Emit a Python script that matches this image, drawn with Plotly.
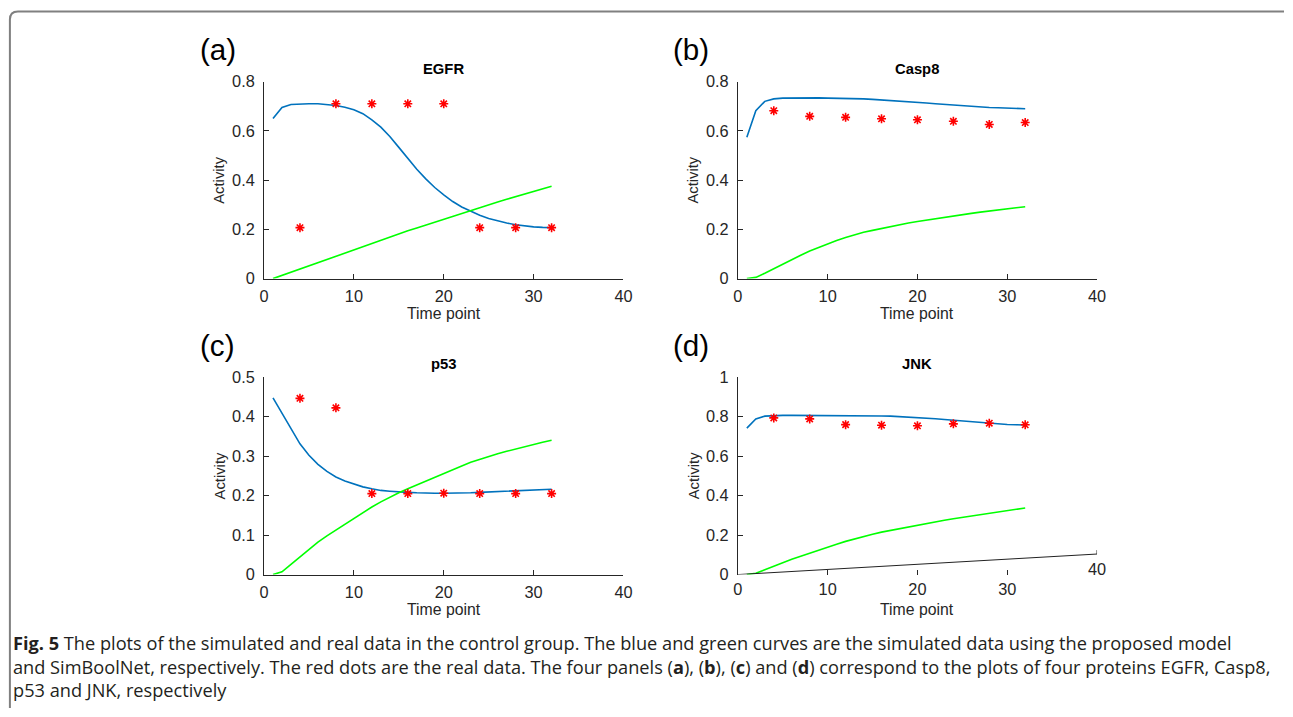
import plotly.graph_objects as go

# ---------------- data ----------------
time_points = list(range(1, 33))
real_times = [4, 8, 12, 16, 20, 24, 28, 32]

egfr_model = [0.650, 0.695, 0.707, 0.710, 0.710, 0.710, 0.707, 0.703, 0.696, 0.686,
              0.670, 0.645, 0.615, 0.577, 0.533, 0.487, 0.444, 0.405, 0.370, 0.340,
              0.313, 0.291, 0.273, 0.257, 0.244, 0.234, 0.226, 0.219, 0.214, 0.210,
              0.208, 0.207]
egfr_simbool = [0.000, 0.013, 0.027, 0.040, 0.054, 0.067, 0.080, 0.093, 0.106, 0.119,
                0.132, 0.145, 0.157, 0.169, 0.182, 0.194, 0.206, 0.218, 0.230, 0.242,
                0.254, 0.266, 0.277, 0.288, 0.300, 0.311, 0.322, 0.333, 0.344, 0.355,
                0.365, 0.375]
egfr_real = [0.207, 0.710, 0.710, 0.710, 0.710, 0.207, 0.207, 0.207]

casp8_model = [0.574, 0.682, 0.720, 0.730, 0.733, 0.734, 0.734, 0.734, 0.734, 0.733,
               0.733, 0.732, 0.731, 0.730, 0.728, 0.726, 0.724, 0.721, 0.719, 0.716,
               0.713, 0.710, 0.707, 0.704, 0.701, 0.699, 0.697, 0.695, 0.694, 0.692,
               0.691, 0.690]
casp8_simbool = [0.000, 0.005, 0.022, 0.041, 0.060, 0.078, 0.095, 0.112, 0.127, 0.142,
                 0.155, 0.167, 0.178, 0.188, 0.196, 0.204, 0.212, 0.219, 0.226, 0.232,
                 0.238, 0.244, 0.250, 0.255, 0.260, 0.265, 0.270, 0.275, 0.279, 0.284,
                 0.288, 0.292]
casp8_real = [0.682, 0.659, 0.655, 0.649, 0.645, 0.639, 0.626, 0.634]

p53_model = [0.447, 0.408, 0.367, 0.331, 0.302, 0.279, 0.261, 0.247, 0.237, 0.229,
             0.222, 0.217, 0.213, 0.211, 0.209, 0.208, 0.207, 0.206, 0.206, 0.206,
             0.206, 0.207, 0.207, 0.208, 0.209, 0.210, 0.211, 0.212, 0.213, 0.214,
             0.215, 0.216]
p53_simbool = [0.000, 0.007, 0.026, 0.045, 0.064, 0.082, 0.098, 0.113, 0.127, 0.141,
               0.156, 0.171, 0.184, 0.196, 0.207, 0.217, 0.227, 0.237, 0.247, 0.257,
               0.266, 0.275, 0.284, 0.292, 0.299, 0.306, 0.312, 0.318, 0.324, 0.329,
               0.335, 0.340]
p53_real = [0.446, 0.422, 0.205, 0.205, 0.206, 0.205, 0.205, 0.205]

jnk_model = [0.741, 0.788, 0.802, 0.805, 0.806, 0.806, 0.806, 0.806, 0.806, 0.806,
             0.806, 0.806, 0.805, 0.805, 0.804, 0.803, 0.802, 0.800, 0.798, 0.796,
             0.793, 0.789, 0.785, 0.781, 0.777, 0.773, 0.769, 0.766, 0.763, 0.760,
             0.758, 0.757]
jnk_simbool = [0.000, 0.007, 0.024, 0.043, 0.060, 0.077, 0.093, 0.109, 0.124, 0.139,
               0.154, 0.168, 0.181, 0.193, 0.204, 0.215, 0.224, 0.233, 0.241, 0.249,
               0.258, 0.267, 0.275, 0.283, 0.290, 0.297, 0.304, 0.311, 0.318, 0.324,
               0.331, 0.337]
jnk_real = [0.793, 0.788, 0.759, 0.756, 0.753, 0.763, 0.766, 0.758]

# stray (slanted) x-axis line seen in panel (d)
jnk_axis_x = [0, 40]
jnk_axis_y = [0, 0.104]

panel_names = ["EGFR", "Casp8", "p53", "JNK"]
panel_letters = ["(a)", "(b)", "(c)", "(d)"]
y_max = [0.8, 0.8, 0.5, 1.0]
y_ticks = [[0, 0.2, 0.4, 0.6, 0.8], [0, 0.2, 0.4, 0.6, 0.8],
           [0, 0.1, 0.2, 0.3, 0.4, 0.5], [0, 0.2, 0.4, 0.6, 0.8, 1]]
x_ticks = [0, 10, 20, 30, 40]

models = [egfr_model, casp8_model, p53_model, jnk_model]
simbools = [egfr_simbool, casp8_simbool, p53_simbool, jnk_simbool]
reals = [egfr_real, casp8_real, p53_real, jnk_real]

caption_lines = [
    "<b>Fig. 5</b> The plots of the simulated and real data in the control group. The blue and green curves are the simulated data using the proposed model",
    "and SimBoolNet, respectively. The red dots are the real data. The four panels (<b>a</b>), (<b>b</b>), (<b>c</b>) and (<b>d</b>) correspond to the plots of four proteins EGFR, Casp8,",
    "p53 and JNK, respectively",
]

# ---------------- layout helpers ----------------
W, H = 1293, 717
# the captured picture maps the page slightly inward; these undo that mapping
SX, OX = 0.9895, 3.6
SY, OY = 0.977, 7.5
FS = 1.02  # font compensation

def px(x):
    return ((x - OX) / SX) / W
def py(y):
    return 1 - ((y - OY) / SY) / H

# axes boxes in target pixels: (left, right, top, bottom)
boxes = [(262.7, 622.3, 80.3, 277.7), (736.7, 1096.0, 80.3, 277.7),
         (262.7, 622.3, 376.3, 574.3), (736.7, 1096.0, 376.3, 574.3)]

BLUE = "#0072BD"
GREEN = "#00FF00"
RED = "#FF0000"
AX = "#262626"
FAM = "Liberation Sans, Arial, sans-serif"
TICKFONT = dict(family=FAM, size=16 * FS, color=AX)

fig = go.Figure()
annotations = []
for i in range(4):
    xa = "x" if i == 0 else f"x{i+1}"
    ya = "y" if i == 0 else f"y{i+1}"
    fig.add_trace(go.Scatter(x=time_points, y=models[i], mode="lines",
                             line=dict(color=BLUE, width=1.6), xaxis=xa, yaxis=ya,
                             cliponaxis=False, showlegend=False))
    fig.add_trace(go.Scatter(x=time_points, y=simbools[i], mode="lines",
                             line=dict(color=GREEN, width=1.6), xaxis=xa, yaxis=ya,
                             cliponaxis=False, showlegend=False))
    fig.add_trace(go.Scatter(x=real_times, y=reals[i], mode="markers",
                             marker=dict(symbol="asterisk-open", size=7.5, color=RED,
                                         line=dict(color=RED, width=1.6)),
                             xaxis=xa, yaxis=ya, cliponaxis=False, showlegend=False))
    l, r, t, b = boxes[i]
    is_d = (i == 3)
    xkey = "xaxis" if i == 0 else f"xaxis{i+1}"
    ykey = "yaxis" if i == 0 else f"yaxis{i+1}"
    fig.update_layout(**{
        xkey: dict(domain=[px(l), px(r)], anchor=ya, range=[0, 40],
                   tickvals=x_ticks[:-1] if is_d else x_ticks,
                   ticks="inside", ticklen=5, tickcolor=AX, tickwidth=1,
                   showline=not is_d, linecolor=AX, linewidth=1,
                   showgrid=False, zeroline=False, tickfont=TICKFONT,
                   ticklabelstandoff=3, fixedrange=True),
        ykey: dict(domain=[py(b), py(t)], anchor=xa, range=[0, y_max[i]],
                   tickvals=y_ticks[i],
                   ticktext=[("%g" % v) for v in y_ticks[i]],
                   ticks="inside", ticklen=5, tickcolor=AX, tickwidth=1,
                   showline=True, linecolor=AX, linewidth=1,
                   showgrid=False, zeroline=False, tickfont=TICKFONT,
                   ticklabelstandoff=5, fixedrange=True),
    })
    cx = (l + r) / 2
    annotations.append(dict(text="<b>%s</b>" % panel_names[i], x=px(cx), y=py(t - 12.6),
                            xref="paper", yref="paper", showarrow=False,
                            xanchor="center", yanchor="middle",
                            font=dict(family=FAM, size=14.5 * FS, color="#000000")))
    annotations.append(dict(text="Time point", x=px(cx), y=py(b + 35),
                            xref="paper", yref="paper", showarrow=False,
                            xanchor="center", yanchor="middle",
                            font=dict(family=FAM, size=15.5 * FS, color=AX)))
    annotations.append(dict(text="Activity", x=px(l - 44.4), y=py((t + b) / 2),
                            xref="paper", yref="paper", showarrow=False, textangle=-90,
                            xanchor="center", yanchor="middle",
                            font=dict(family=FAM, size=14.5 * FS, color=AX)))
    annotations.append(dict(text=panel_letters[i], x=px(l - 46.5), y=py(t - 32),
                            xref="paper", yref="paper", showarrow=False,
                            xanchor="center", yanchor="middle",
                            font=dict(family=FAM, size=29 * FS, color="#000000")))

# stray axis in panel (d)
fig.add_trace(go.Scatter(x=jnk_axis_x, y=jnk_axis_y, mode="lines",
                         line=dict(color="#222222", width=1), xaxis="x4", yaxis="y4",
                         cliponaxis=False, showlegend=False))
fig.add_trace(go.Scatter(x=[jnk_axis_x[1], jnk_axis_x[1]],
                         y=[jnk_axis_y[1], jnk_axis_y[1] + 0.02], mode="lines",
                         line=dict(color="#222222", width=1), xaxis="x4", yaxis="y4",
                         cliponaxis=False, showlegend=False))
annotations.append(dict(text="40", x=40, y=0.027, xref="x4", yref="y4", showarrow=False,
                        xanchor="center", yanchor="middle", font=TICKFONT))

# caption (one text block)
annotations.append(dict(text="<br>".join(caption_lines), x=px(9.5), y=py(666),
                        xref="paper", yref="paper", showarrow=False, xanchor="left",
                        yanchor="middle", align="left",
                        font=dict(family="Open Sans, sans-serif", size=18.2,
                                  color="#231f20")))

# frame
frame_path = "M %f,%f L %f,%f Q %f,%f %f,%f L %f,%f" % (
    px(8.5), 0.0, px(8.5), py(18), px(8.5), py(10), px(16.5), py(10), 1.0, py(10))
fig.add_shape(type="path", path=frame_path, xref="paper", yref="paper",
              line=dict(color="#808080", width=2))

fig.update_layout(width=W, height=H, margin=dict(l=0, r=0, t=0, b=0),
                  paper_bgcolor="white", plot_bgcolor="white",
                  annotations=annotations, showlegend=False)

fig.write_html(
    "out.html", config={"displayModeBar": False},
    post_script=("document.documentElement.style.margin='0';"
                 "document.body.style.margin='0';document.body.style.padding='0';"
                 "document.body.style.overflow='hidden';"
                 "var d=document.getElementById('{plot_id}');"
                 "d.style.position='fixed';d.style.left='0px';d.style.top='0px';"))
